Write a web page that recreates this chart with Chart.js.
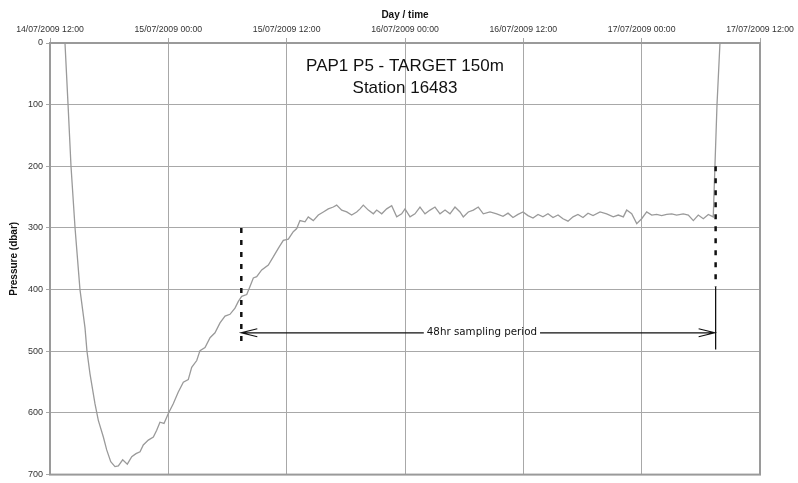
<!DOCTYPE html>
<html>
<head>
<meta charset="utf-8">
<script src="https://cdn.jsdelivr.net/npm/chart.js@4.4.0/dist/chart.umd.min.js"></script>
<style>
  html, body { margin: 0; padding: 0; background: #fff; }
  canvas { display: block; }
</style>
</head>
<body>
<canvas id="pressureChart" width="798" height="483"></canvas>
<script>
// float depth, hours after 14/07/2009 12:00
const hours = [
  1.52, 1.83, 2.13, 2.54, 3.04, 3.55, 3.75, 4.06, 4.56, 4.90, 5.41, 5.75, 6.16, 6.59, 6.93,
  7.37, 7.84, 8.29, 8.72, 9.13, 9.46, 9.97, 10.48, 10.82, 11.15, 11.56, 12.0, 12.5, 13.01,
  13.52, 14.02, 14.37, 14.88, 15.21, 15.72, 16.23, 16.73, 17.24, 17.75, 18.25, 18.76, 19.1,
  19.44, 19.95, 20.28, 20.62, 20.96, 21.47, 22.14, 22.64, 23.15, 23.66, 24.17, 24.67, 25.02,
  25.35, 25.86, 26.19, 26.7, 27.21, 27.72, 28.22, 28.73, 29.07, 29.58, 30.09, 30.59, 31.1,
  31.44, 31.77, 32.28, 32.79, 33.13, 33.64, 34.14, 34.65, 35.16, 35.66, 36.0, 36.51, 37.01,
  37.52, 38.03, 38.54, 39.04, 39.55, 40.06, 40.56, 41.07, 41.58, 41.91, 42.42, 42.93, 43.43,
  43.94, 44.62, 45.3, 45.94, 46.45, 46.95, 47.46, 47.97, 48.47, 48.98, 49.49, 49.99, 50.5,
  51.01, 51.52, 52.02, 52.53, 53.04, 53.54, 54.05, 54.56, 55.07, 55.78, 56.45, 57.12, 57.63,
  58.14, 58.48, 58.99, 59.5, 60.0, 60.51, 61.02, 61.52, 62.03, 62.54, 63.05, 63.55, 64.22,
  64.73, 65.24, 65.74, 66.25, 66.76, 67.26, 67.43, 67.64, 67.94, 71.29
];
const pressure = [
  0, 100, 200, 300, 400, 462, 500, 537, 585, 612, 639, 660, 679, 687, 686,
  676, 683, 671, 666, 663, 652, 644, 639, 628, 615, 617, 601, 585, 566,
  550, 546, 526, 515, 499, 494, 478, 470, 454, 443, 440, 430, 419,
  411, 408, 395, 381, 379, 368, 360, 347, 333, 320, 318, 306, 301,
  288, 290, 282, 288, 279, 274, 269, 266, 263, 271, 274, 279, 274,
  269, 263, 271, 277, 271, 277, 269, 264, 282, 277, 269, 282, 277,
  266, 277, 271, 266, 277, 271, 277, 266, 274, 282, 274, 271, 266,
  277, 274, 277, 281, 276, 283, 278, 274, 280, 284, 278, 282, 277,
  283, 279, 285, 289, 282, 278, 283, 276, 280, 274, 277, 282, 279,
  282, 271, 277, 293, 285, 274, 279, 278, 280, 278, 277, 279, 277,
  279, 288, 279, 285, 278, 282, 200, 100, 0, 0
];

const tickLabels = [
  '14/07/2009 12:00', '15/07/2009 00:00', '15/07/2009 12:00', '16/07/2009 00:00',
  '16/07/2009 12:00', '17/07/2009 00:00', '17/07/2009 12:00'
];
const chartTitle = ['PAP1 P5 - TARGET 150m', 'Station 16483'];

// 48 h sampling window (hours) and its markers (dbar)
const samplingStart = 19.4;
const samplingEnd = 67.4;
const samplingText = '48hr sampling period';
const samplingTextAt = 43.8;
const arrowDepth = 470;
const startMarker = [300, 490];
const endMarkerDotted = [200, 395];
const endMarkerSolid = [395, 497];

const FONT = '"Liberation Sans", Arial, sans-serif';

const framePlugin = {
  id: 'frame',
  beforeDatasetsDraw(chart) {
    const { ctx, chartArea: a } = chart;
    ctx.save();
    ctx.strokeStyle = '#9a9a9a';
    ctx.lineWidth = 2;
    ctx.strokeRect(a.left, a.top, a.right - a.left, a.bottom - a.top);
    ctx.restore();
  }
};

const notesPlugin = {
  id: 'notes',
  afterDatasetsDraw(chart) {
    const { ctx, chartArea: a } = chart;
    const xs = chart.scales.x, ys = chart.scales.y;
    ctx.save();

    // title inside the plot
    ctx.fillStyle = '#111';
    ctx.font = '17px ' + FONT;
    ctx.textAlign = 'center';
    ctx.textBaseline = 'middle';
    const cx = (a.left + a.right) / 2;
    ctx.fillText(chartTitle[0], cx, a.top + 23);
    ctx.fillText(chartTitle[1], cx, a.top + 45);

    // sampling period arrow
    const y = ys.getPixelForValue(arrowDepth);
    const x1 = xs.getPixelForValue(samplingStart);
    const x2 = xs.getPixelForValue(samplingEnd);
    const tx = xs.getPixelForValue(samplingTextAt);
    ctx.font = '10.3px "DejaVu Sans", Verdana, sans-serif';
    const w = ctx.measureText(samplingText).width;
    ctx.fillText(samplingText, tx, y);

    ctx.strokeStyle = '#111';
    ctx.lineWidth = 1.2;
    ctx.beginPath();
    ctx.moveTo(x1, y); ctx.lineTo(tx - w / 2 - 3, y);
    ctx.moveTo(tx + w / 2 + 3, y); ctx.lineTo(x2, y);
    // open heads
    ctx.moveTo(x1 + 16, y - 4); ctx.lineTo(x1, y); ctx.lineTo(x1 + 16, y + 4);
    ctx.moveTo(x2 - 16, y - 4); ctx.lineTo(x2, y); ctx.lineTo(x2 - 16, y + 4);
    ctx.stroke();
    ctx.restore();
  }
};

const markerLine = (x, range, dashed) => ({
  data: range.map(p => ({ x: x, y: p })),
  borderColor: '#111',
  borderWidth: dashed ? 2.5 : 1.3,
  borderDash: dashed ? [5, 7] : [],
  pointRadius: 0,
  order: 0
});

new Chart(document.getElementById('pressureChart'), {
  type: 'line',
  data: {
    datasets: [
      markerLine(samplingStart, startMarker, true),
      markerLine(samplingEnd + 0.1, endMarkerDotted, true),
      markerLine(samplingEnd + 0.1, endMarkerSolid, false),
      {
        data: hours.map((h, i) => ({ x: h, y: pressure[i] })),
        borderColor: '#9a9a9a',
        borderWidth: 1.3,
        pointRadius: 0,
        tension: 0,
        order: 1
      }
    ]
  },
  options: {
    responsive: false,
    animation: false,
    devicePixelRatio: 1,
    layout: { padding: { left: 0, top: 0, right: 38, bottom: 5 } },
    plugins: {
      legend: { display: false },
      tooltip: { enabled: false }
    },
    scales: {
      x: {
        type: 'linear',
        position: 'top',
        min: 0,
        max: 72,
        afterFit: s => { s.height = 43; },
        afterBuildTicks: s => { s.ticks = tickLabels.map((_, i) => ({ value: i * 12 })); },
        ticks: {
          callback: (v, i) => tickLabels[i],
          autoSkip: false,
          maxRotation: 0,
          padding: 3,
          color: '#333',
          font: { family: FONT, size: 8.7 }
        },
        grid: { color: '#a8a8a8', lineWidth: 1, tickLength: 5 },
        border: { color: '#9a9a9a', width: 2 },
        title: {
          display: true,
          text: 'Day / time',
          color: '#111',
          padding: { top: 9, bottom: 0 },
          font: { family: FONT, size: 10, weight: 'bold' }
        }
      },
      y: {
        type: 'linear',
        reverse: true,
        min: 0,
        max: 700,
        afterFit: s => { s.width = 50; },
        ticks: {
          stepSize: 100,
          padding: 3,
          color: '#333',
          font: { family: FONT, size: 9 }
        },
        grid: { color: '#a8a8a8', lineWidth: 1, tickLength: 4 },
        border: { color: '#9a9a9a', width: 2 },
        title: {
          display: true,
          text: 'Pressure (dbar)',
          color: '#111',
          padding: { top: 8, bottom: 0 },
          font: { family: FONT, size: 10, weight: 'bold' }
        }
      }
    }
  },
  plugins: [framePlugin, notesPlugin]
});
</script>
</body>
</html>
